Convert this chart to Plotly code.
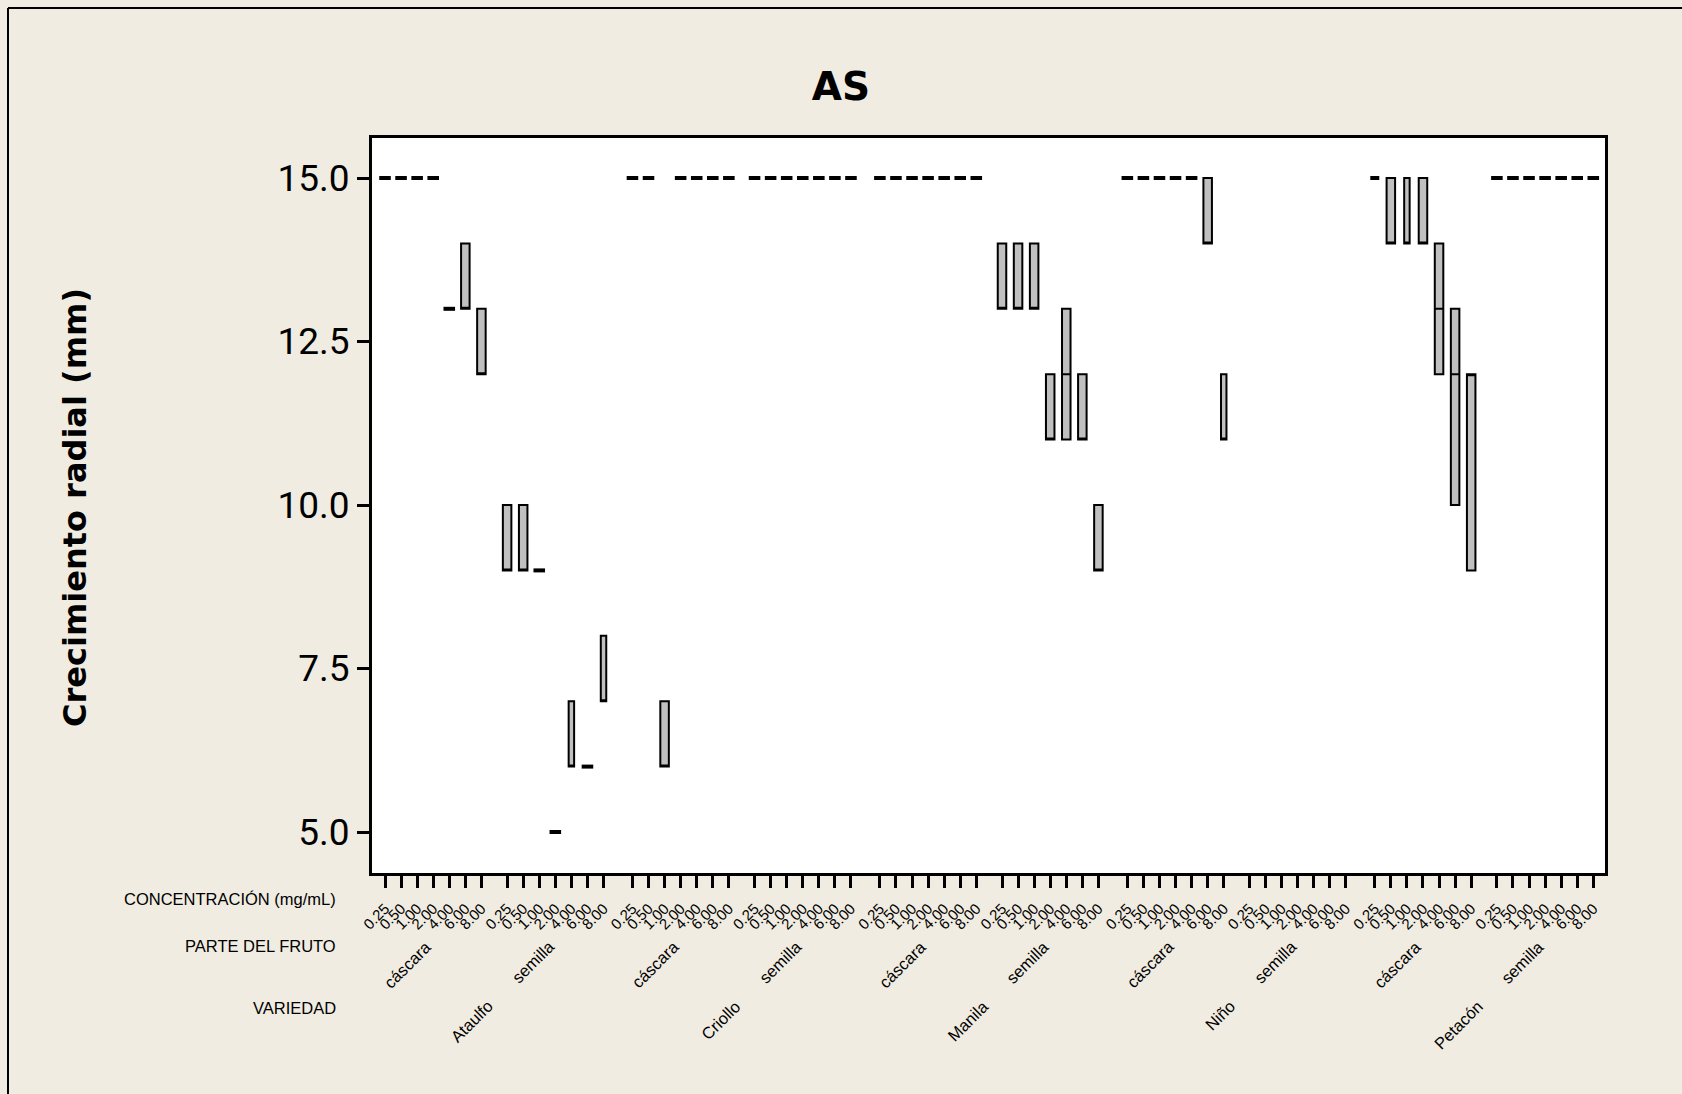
import plotly.graph_objects as go

# ---------------- data ----------------
varieties = ["Ataulfo", "Criollo", "Manila", "Niño", "Petacón"]
parts = ["cáscara", "semilla"]
concentrations = ["0.25", "0.50", "1.00", "2.00", "4.00", "6.00", "8.00"]

# per variety: 7 values for cáscara followed by 7 values for semilla
# (lower quartile, median, upper quartile of radial growth, mm)
ataulfo_q1  = [15, 15, 15, 15, 13, 13, 12,   9, 9, 9, 5, 6, 6, 7]
ataulfo_med = [15, 15, 15, 15, 13, 13, 12,   9, 9, 9, 5, 6, 6, 7]
ataulfo_q3  = [15, 15, 15, 15, 13, 14, 13,  10, 10, 9, 5, 7, 6, 8]

criollo_q1  = [15, 15, 6, 15, 15, 15, 15,  15, 15, 15, 15, 15, 15, 15]
criollo_med = [15, 15, 6, 15, 15, 15, 15,  15, 15, 15, 15, 15, 15, 15]
criollo_q3  = [15, 15, 7, 15, 15, 15, 15,  15, 15, 15, 15, 15, 15, 15]

manila_q1  = [15, 15, 15, 15, 15, 15, 15,  13, 13, 13, 11, 11, 11, 9]
manila_med = [15, 15, 15, 15, 15, 15, 15,  13, 13, 13, 11, 12, 11, 9]
manila_q3  = [15, 15, 15, 15, 15, 15, 15,  14, 14, 14, 12, 13, 12, 10]

nino_q1  = [15, 15, 15, 15, 15, 14, 11] + [None] * 7
nino_med = [15, 15, 15, 15, 15, 14, 11] + [None] * 7
nino_q3  = [15, 15, 15, 15, 15, 15, 12] + [None] * 7

petacon_q1  = [15, 14, 14, 14, 12, 10, 9,  15, 15, 15, 15, 15, 15, 15]
petacon_med = [15, 14, 14, 14, 13, 12, 12, 15, 15, 15, 15, 15, 15, 15]
petacon_q3  = [15, 15, 15, 15, 14, 13, 12, 15, 15, 15, 15, 15, 15, 15]

y_ticks = [5.0, 7.5, 10.0, 12.5, 15.0]

# ---------------- styling / layout constants ----------------
Q1 = [ataulfo_q1, criollo_q1, manila_q1, nino_q1, petacon_q1]
MED = [ataulfo_med, criollo_med, manila_med, nino_med, petacon_med]
Q3 = [ataulfo_q3, criollo_q3, manila_q3, nino_q3, petacon_q3]

# boxes drawn narrower in the reference (variety, part, concentration)
NARROW = {("Ataulfo", "semilla", "4.00"), ("Ataulfo", "semilla", "8.00"),
          ("Niño", "cáscara", "8.00"), ("Petacón", "cáscara", "1.00"),
          ("Petacón", "cáscara", "0.25")}

PART_GAP = 1.6
VAR_GAP = 1.8
W, H = 1682, 1094
ML, MR, MT, MB = 372, 77, 138, 221
PW, PH = W - ML - MR, H - MT - MB
BEIGE = "rgb(240,236,226)"
LABEL_FONT = "Liberation Sans, Arial, sans-serif"
BOX_W, BOX_W_NARROW = 0.53, 0.34          # data units
DASH_HALF, DASH_HALF_NARROW = 0.36, 0.28  # data units
LABEL_SHIFT = 0.3                          # data units


def xpos(vi, pi, ci):
    n = len(concentrations) - 1
    return vi * (2 * n + PART_GAP + VAR_GAP) + pi * (n + PART_GAP) + ci


def px_x(px):
    return (px - ML) / PW


def px_y(py):
    return (H - MB - py) / PH


wide = dict(x=[], q1=[], med=[], q3=[])
narrow = dict(x=[], q1=[], med=[], q3=[])
dash_x, dash_y = [], []
tickvals, ticktext = [], []

for vi, var in enumerate(varieties):
    for pi, part in enumerate(parts):
        for ci, conc in enumerate(concentrations):
            k = pi * len(concentrations) + ci
            x = xpos(vi, pi, ci)
            tickvals.append(x)
            ticktext.append(conc)
            lo, md, hi = Q1[vi][k], MED[vi][k], Q3[vi][k]
            if lo is None:
                continue
            is_narrow = (var, part, conc) in NARROW
            if lo == hi:
                hw = DASH_HALF_NARROW if is_narrow else DASH_HALF
                dash_x += [x - hw, x + hw, None]
                dash_y += [lo, lo, None]
            else:
                d = narrow if is_narrow else wide
                d["x"].append(x)
                d["q1"].append(lo)
                d["med"].append(md)
                d["q3"].append(hi)

fig = go.Figure()
for d, w in ((wide, BOX_W), (narrow, BOX_W_NARROW)):
    fig.add_trace(go.Box(
        x=d["x"], q1=d["q1"], median=d["med"], q3=d["q3"],
        lowerfence=d["q1"], upperfence=d["q3"], orientation="v",
        width=w, fillcolor="#C0C0C0", line=dict(color="black", width=2),
        whiskerwidth=0, boxpoints=False, hoverinfo="skip", showlegend=False))

fig.add_trace(go.Scatter(
    x=dash_x, y=dash_y, mode="lines", connectgaps=False,
    line=dict(color="black", width=4),
    hoverinfo="skip", showlegend=False))

n_last = tickvals[-1]
x_lo = -(385 - ML) / ((1593.3 - 385) / n_last)
x_hi = n_last + (W - MR - 1593.3) / ((1593.3 - 385) / n_last)
y_px_per_unit = (832 - 178) / 10.0
y_lo = 5 - (H - MB - 832) / y_px_per_unit
y_hi = 15 + (178 - MT) / y_px_per_unit

annotations = []
# side labels of the hierarchical axis
for text, py in (("CONCENTRACIÓN (mg/mL)", 899), ("PARTE DEL FRUTO", 946),
                 ("VARIEDAD", 1008)):
    annotations.append(dict(text=text, xref="paper", yref="paper",
                            x=px_x(338), y=px_y(py), xanchor="right",
                            yanchor="middle", showarrow=False,
                            font=dict(family=LABEL_FONT, size=16.5, color="black")))

n7 = len(concentrations) - 1
for vi, var in enumerate(varieties):
    for pi, part in enumerate(parts):
        center = xpos(vi, pi, 0) + n7 / 2
        annotations.append(dict(text=part, xref="x", yref="paper",
                                x=center + LABEL_SHIFT,
                                y=px_y(934), xanchor="right", yanchor="top",
                                textangle=-45, showarrow=False,
                                font=dict(family=LABEL_FONT, size=16.5, color="black")))
    vcenter = (xpos(vi, 0, 0) + xpos(vi, 1, n7)) / 2
    annotations.append(dict(text=var, xref="x", yref="paper",
                            x=vcenter + LABEL_SHIFT,
                            y=px_y(994), xanchor="right", yanchor="top",
                            textangle=-45, showarrow=False,
                            font=dict(family=LABEL_FONT, size=16.5, color="black")))

annotations.append(dict(text="<b>Crecimiento radial (mm)</b>", xref="paper",
                        yref="paper", x=px_x(75), y=px_y(508), xanchor="center",
                        yanchor="middle", textangle=-90, showarrow=False,
                        font=dict(family="DejaVu Sans, Verdana, sans-serif",
                                  size=32, color="black")))

shapes = [
    dict(type="line", xref="paper", yref="paper", x0=px_x(8), x1=px_x(8),
         y0=px_y(H), y1=px_y(8), line=dict(color="black", width=2)),
    dict(type="line", xref="paper", yref="paper", x0=px_x(8), x1=px_x(W),
         y0=px_y(8), y1=px_y(8), line=dict(color="black", width=2)),
]

fig.update_layout(
    width=W, height=H,
    margin=dict(l=ML, r=MR, t=MT, b=MB, pad=0),
    paper_bgcolor=BEIGE, plot_bgcolor="white",
    boxmode="overlay",
    title=dict(text="<b>AS</b>", x=0.5, xref="container", xanchor="center",
               y=1 - 86 / H, yref="container", yanchor="middle",
               font=dict(family="DejaVu Sans, Verdana, sans-serif", size=39,
                         color="black")),
    xaxis=dict(range=[x_lo, x_hi], tickmode="array", tickvals=tickvals,
               ticktext=ticktext, tickangle=-45, ticks="outside", ticklen=12,
               tickwidth=2.5, tickcolor="black", showline=True, mirror=True,
               linewidth=3, linecolor="black", showgrid=False, zeroline=False,
               ticklabelstandoff=6,
               tickfont=dict(family=LABEL_FONT, size=15, color="black")),
    yaxis=dict(range=[y_lo, y_hi], tickmode="array", tickvals=y_ticks,
               ticktext=[f"{v:.1f}" for v in y_ticks], ticks="outside",
               ticklen=12, tickwidth=2.5, tickcolor="black", showline=True,
               mirror=True, linewidth=3, linecolor="black", showgrid=False,
               zeroline=False,
               tickfont=dict(family="Roboto, sans-serif", size=37, color="black")),
    annotations=annotations,
    shapes=shapes,
)

fig.write_html("out.html", config={"displayModeBar": False},
               post_script="document.body.style.margin='0';"
                           "document.body.style.overflow='hidden';")
